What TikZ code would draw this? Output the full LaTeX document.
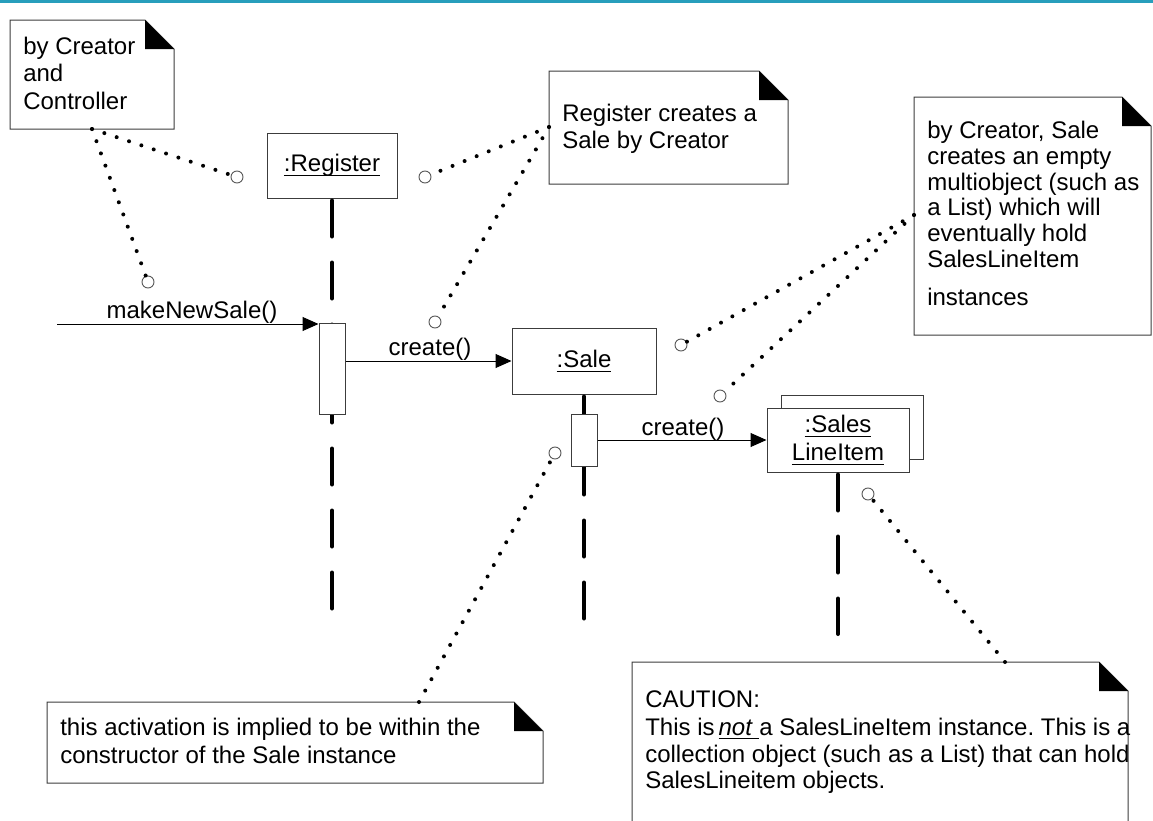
\documentclass[tikz,border=0pt]{standalone}
\usepackage{fontspec}
\setmainfont{Liberation Sans}
\usetikzlibrary{arrows.meta,calc}
\frenchspacing

% underline sitting close under the baseline
\newcommand{\uln}[1]{\setbox0=\hbox{#1}\rlap{\rule[-3.2pt]{\wd0}{0.7pt}}\box0}

% UML note with a folded (filled) top-right corner: name, x1, y1, x2, y2
\newcommand{\notebox}[5]{%
  \coordinate (#1-nw) at (#2,#3);
  \coordinate (#1-se) at (#4,#5);
  \draw[notefrm] (#2,#3) -- (#4-29,#3) -- (#4,#3+29) -- (#4,#5) -- (#2,#5) -- cycle;
  \fill (#4-29,#3) -- (#4-29,#3+29) -- (#4,#3+29) -- cycle;
}

\definecolor{topbar}{RGB}{40,158,188}
\definecolor{frame}{RGB}{60,60,60}

\begin{document}
\begin{tikzpicture}[
  x=0.75pt, y=-0.75pt,
  font=\fontsize{18}{21}\selectfont,
  box/.style={draw=frame, line width=0.75pt, fill=white, inner sep=0pt, align=center},
  act/.style={draw=frame, line width=0.75pt, fill=white, inner sep=0pt, minimum width=19.5pt},
  life/.style={line width=3pt, line cap=round, dash pattern=on 27pt off 19.5pt},
  msg/.style={line width=0.75pt, -{Triangle[length=12pt,width=10.5pt]}},
  anchorpt/.style={circle, draw=black!65, line width=0.7pt, fill=white, minimum size=9pt, inner sep=0pt},
  dots/.style={line width=3pt, line cap=round, dash pattern=on 0pt off 9.75pt},
  notefrm/.style={draw=frame, line width=0.75pt, fill=white},
  txt/.style={anchor=base west, inner sep=0pt},
  lbl/.style={anchor=base, inner sep=0pt}
]
\useasboundingbox (0,0) rectangle (1153,821);
\clip (0,0) rectangle (1153,821);
\fill[white] (0,0) rectangle (1153,821);
\fill[topbar] (0,0) rectangle (1153,2.5);

% ---- notes ----
\notebox{n1}{10}{20}{174}{129}
\notebox{n2}{549}{71}{788}{184}
\notebox{n3}{914}{97}{1151}{335}
\notebox{n4}{47}{702}{543}{783}
\notebox{n5}{632}{662}{1128}{840}

\node[txt] (n1a) at (23,54) {by Creator};
\node[txt] (n1b) at (23,81.5) {and};
\node[txt] (n1c) at (23,109) {Controller};

\node[txt] (n2a) at (562,121) {Register creates a};
\node[txt] (n2b) at (562,148) {Sale by Creator};

\node[txt] (n3a) at (927,138) {by Creator, Sale};
\node[txt] (n3b) at (927,164) {creates an empty};
\node[txt] (n3c) at (927,190) {multiobject (such as};
\node[txt] (n3d) at (927,215.5) {a List) which will};
\node[txt] (n3e) at (927,241) {eventually hold};
\node[txt] (n3f) at (927,267) {SalesLineItem};
\node[txt] (n3g) at (927,305) {instances};

\node[txt] (n4a) at (60,735) {this activation is implied to be within the};
\node[txt] (n4b) at (60,763) {constructor of the Sale instance};

\node[txt] (n5a) at (645,707) {CAUTION:};
\node[txt] (n5b) at (645,735) {This is\,\uln{\textit{not}\ }a SalesLineItem instance. This is a};
\node[txt] (n5c) at (645,762) {collection object (such as a List) that can hold};
\node[txt] (n5d) at (645,788) {SalesLineitem objects.};

% ---- objects ----
\node[box, minimum width=97.5pt, minimum height=48.75pt] (reg) at (332,165.5) {\uln{:Register}};
\node[box, minimum width=108pt, minimum height=49.5pt] (sale) at (584,361) {\uln{:Sale}};
\node[box, minimum width=106.5pt, minimum height=48pt] (sliback) at (852,427) {};
\node[box, minimum width=106.5pt, minimum height=48pt] (sli) at (838,440) {\uln{:Sales}\\\uln{LineItem}};

% ---- lifelines ----
\coordinate (regEnd) at (332,609);
\coordinate (saleEnd) at (584,619);
\coordinate (sliEnd) at (838,634);
\draw[life] ($(reg.south)+(0,2)$) -- (regEnd);
\draw[life] ($(sale.south)+(0,2)$) -- (saleEnd);
\draw[life] ($(sli.south)+(0,2)$) -- (sliEnd);

% ---- activations ----
\node[act, minimum height=68.25pt] (actR) at (332,368.5) {};
\node[act, minimum height=39pt] (actS) at (584,440) {};

% ---- messages ----
\coordinate (mstart) at (57,324);
\draw[msg] (mstart) -- (mstart -| actR.west);
\node[lbl] (m1) at (192,318) {makeNewSale()};
\draw[msg] (actR.east |- sale.west) -- (sale.west);
\node[lbl] (m2) at (430,355) {create()};
\draw[msg] (actS.east) -- (sli.west);
\node[lbl] (m3) at (683,435) {create()};

% ---- note anchors ----
\node[anchorpt] (c1) at (237,177) {};
\node[anchorpt] (c2) at (148,282) {};
\node[anchorpt] (c3) at (425,177) {};
\node[anchorpt] (c4) at (435,322) {};
\node[anchorpt] (c5) at (681,345) {};
\node[anchorpt] (c6) at (720,396) {};
\node[anchorpt] (c7) at (555,453) {};
\node[anchorpt] (c8) at (868,494) {};

\coordinate (p1) at (92,129);
\coordinate (p2) at (549,127);
\coordinate (p3) at (914,215);
\coordinate (p4) at (419,702);
\coordinate (p5) at (1005,662);

\draw[dots] (p1) -- (c1);
\draw[dots] (p1) -- (c2);
\draw[dots] (p2) -- (c3);
\draw[dots] (p2) -- (c4);
\draw[dots] (p3) -- (c5);
\draw[dots] (p3) -- (c6);
\draw[dots] (p4) -- (c7);
\draw[dots] (p5) -- (c8);
\end{tikzpicture}
\end{document}
